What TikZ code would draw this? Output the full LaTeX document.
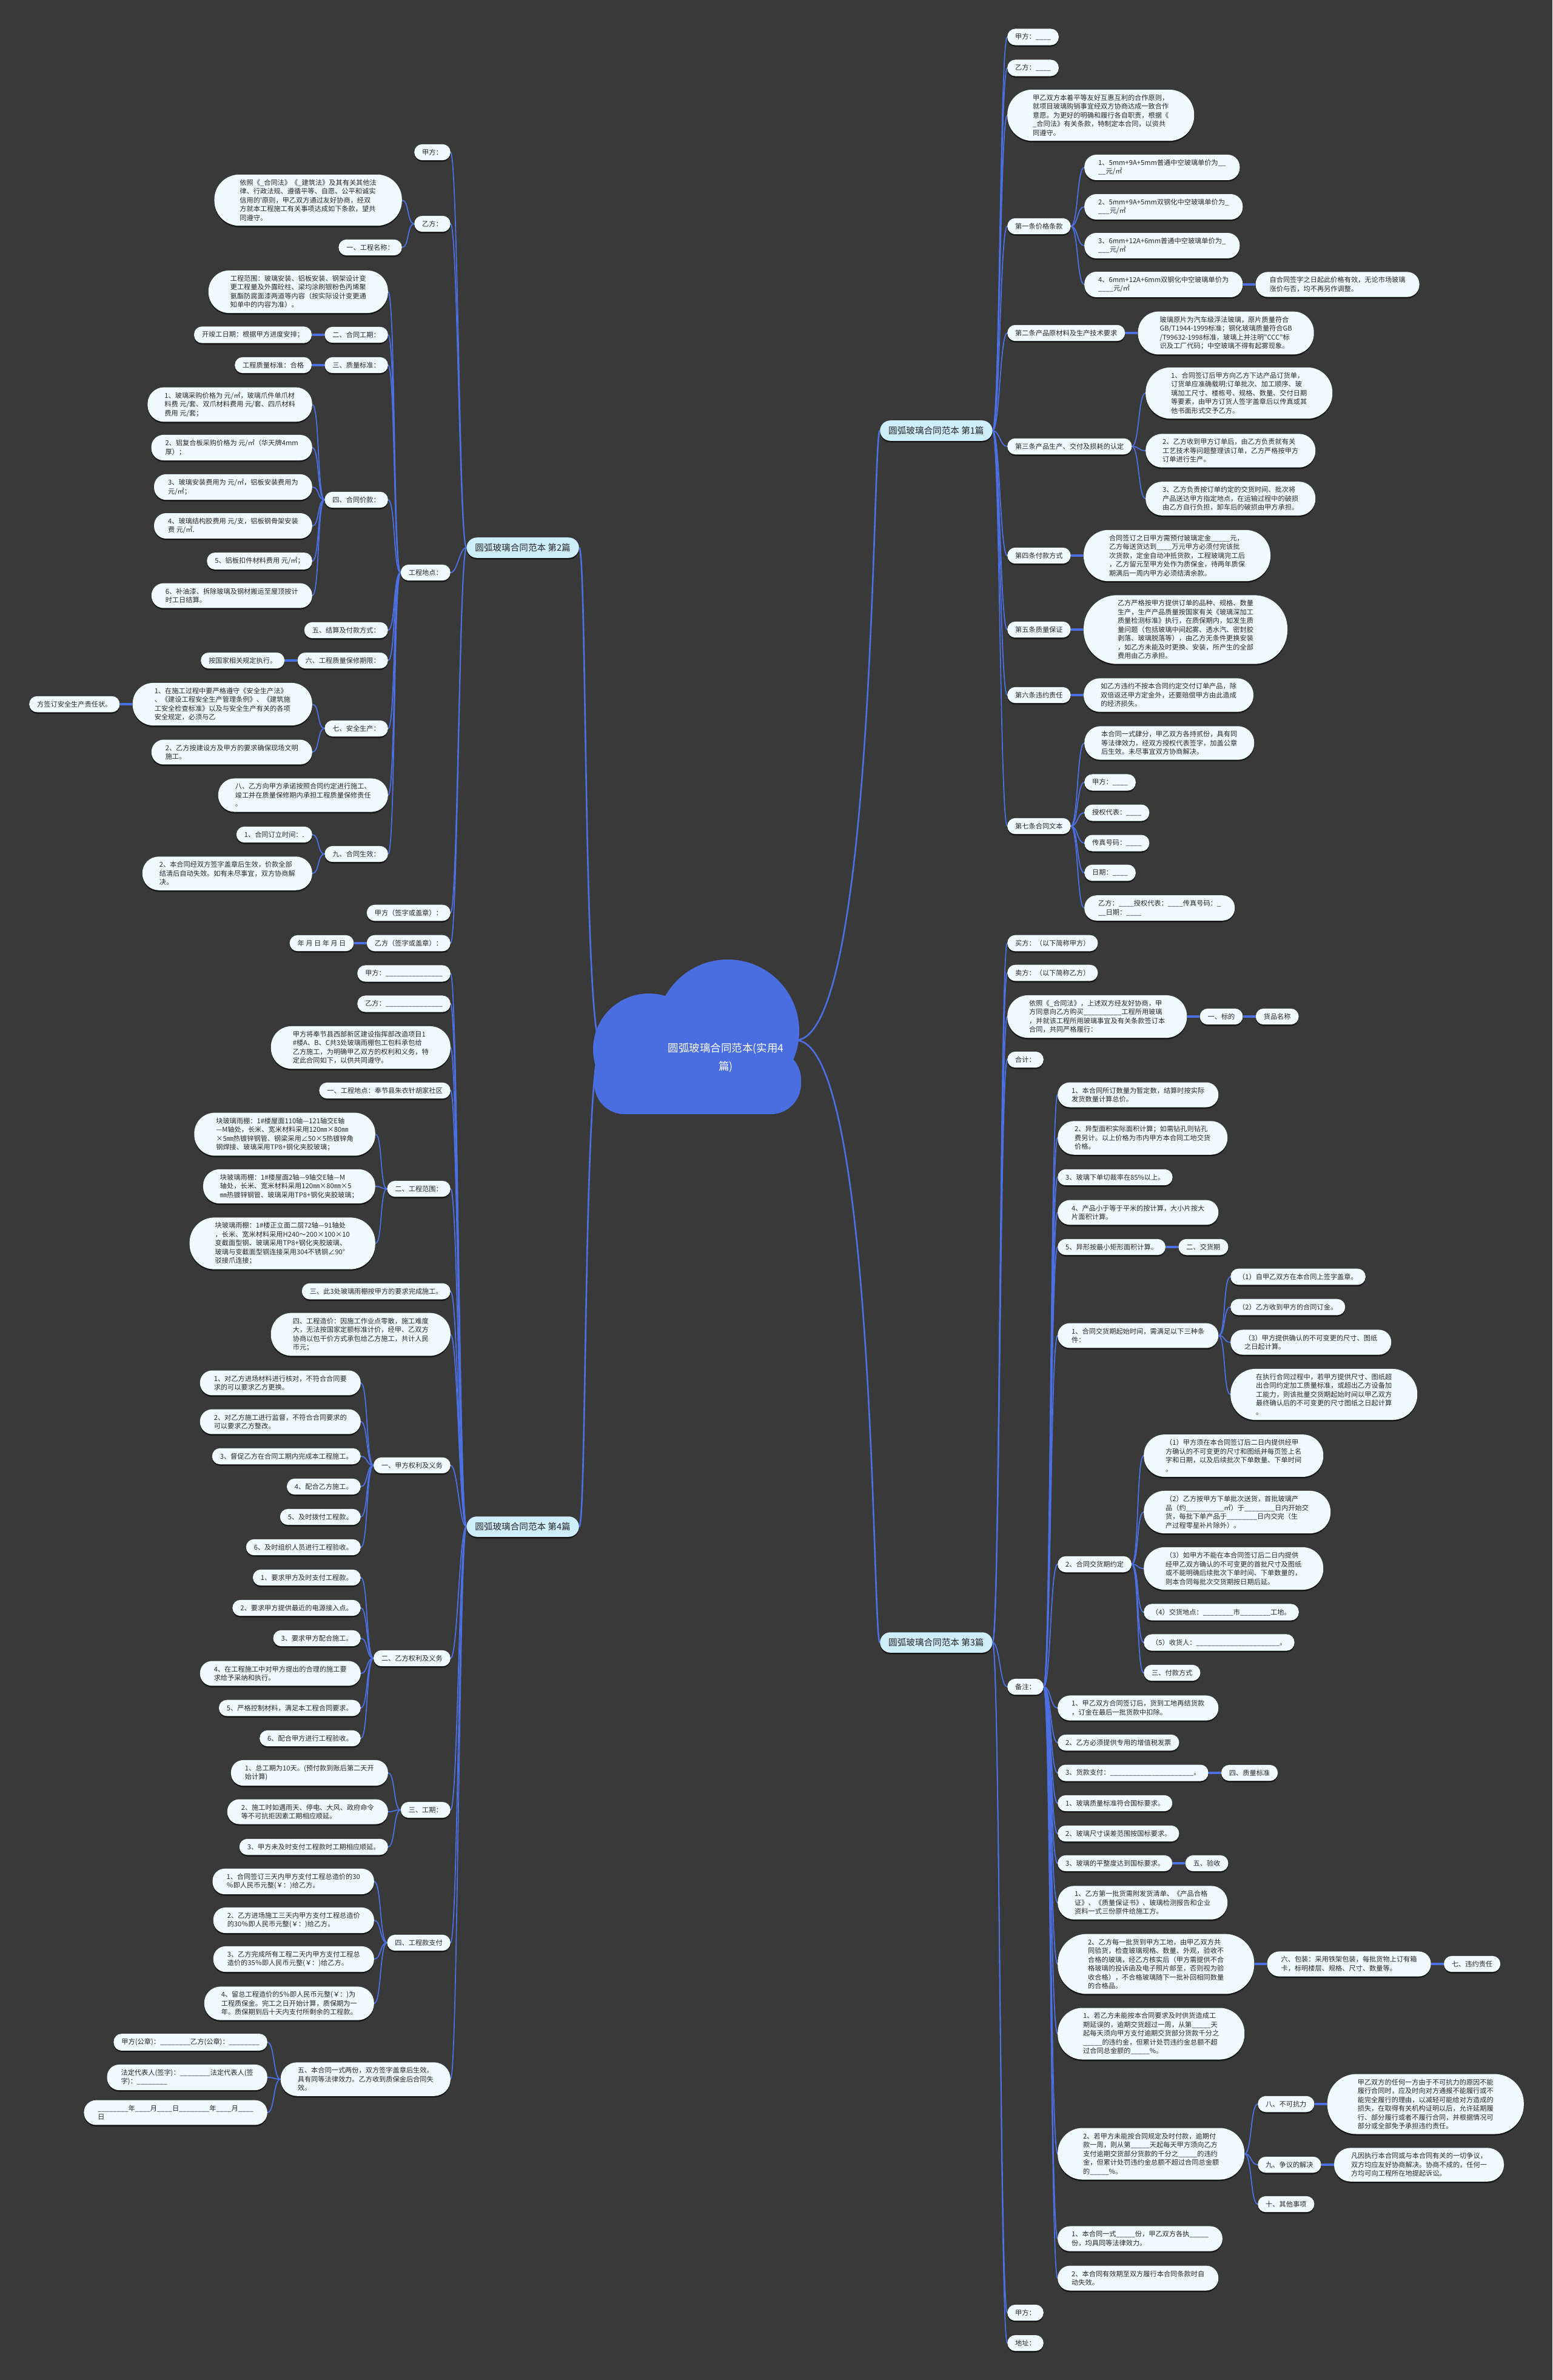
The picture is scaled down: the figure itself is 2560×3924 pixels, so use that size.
\documentclass[tikz,border=0pt]{standalone}
\usepackage{fontspec}
\newfontfamily\cjk{Noto Sans CJK SC}
\usetikzlibrary{shadows}
\pgfdeclarelayer{bgl}
\pgfdeclarelayer{edgel}
\pgfsetlayers{bgl,edgel,main}
\definecolor{bgc}{RGB}{58,57,57}
\definecolor{linec}{RGB}{76,112,226}
\definecolor{nodef}{RGB}{240,251,254}
\definecolor{mainf}{RGB}{206,238,251}
\definecolor{txtc}{RGB}{40,40,40}
\definecolor{rootc}{RGB}{74,110,224}
\AtBeginDocument{\catcode`\_=12 }
\tikzset{
  nb/.style={font=\cjk\fontsize{11.2}{14.5}\selectfont, fill=nodef, text=txtc, align=left, inner ysep=8pt,
    drop shadow={shadow xshift=0pt, shadow yshift=-2.5pt, fill=black, opacity=0.6}},
  n1/.style={nb, inner xsep=13pt, rounded corners=13pt},
  n2/.style={nb, inner xsep=23pt, rounded corners=20pt},
  n3/.style={nb, inner xsep=28pt, rounded corners=27pt},
  n4/.style={nb, inner xsep=36pt, rounded corners=34pt},
  n5/.style={nb, inner xsep=42pt, rounded corners=41pt},
  n6/.style={nb, inner xsep=50pt, rounded corners=48pt},
  n7/.style={nb, inner xsep=56pt, rounded corners=55pt},
  mainn/.style={font=\cjk\fontsize{14.6}{17}\selectfont, fill=mainf, text=txtc, inner xsep=14pt, inner ysep=10pt,
    rounded corners=17pt, drop shadow={shadow xshift=0pt, shadow yshift=-2.5pt, fill=black, opacity=0.6}},
  conn/.style={draw=linec, line width=1.8pt},
  trunk/.style={draw=linec, line width=2.6pt},
  tlink/.style={draw=linec, line width=4pt}
}
\newcommand\NL[5]{\node[#1, anchor=east] (#2) at (#3,#4) {#5};}
\newcommand\NR[5]{\node[#1, anchor=west] (#2) at (#3,#4) {#5};}
\newcommand\TL[4]{\node[#1, anchor=east] (#3) at ([xshift=-21pt]#2.west) {#4};
  \begin{pgfonlayer}{edgel}\draw[tlink] (#2.west) -- (#3.east);\end{pgfonlayer}}
\newcommand\TR[4]{\node[#1, anchor=west] (#3) at ([xshift=21pt]#2.east) {#4};
  \begin{pgfonlayer}{edgel}\draw[tlink] (#2.east) -- (#3.west);\end{pgfonlayer}}
\newcommand\CL[2]{\foreach \nn in {#2}{\draw[conn] (#1.west) .. controls +(-12,0) and +(12,0) .. (\nn.east);}}
\newcommand\CR[2]{\foreach \nn in {#2}{\draw[conn] (#1.east) .. controls +(12,0) and +(-12,0) .. (\nn.west);}}
\begin{document}
\begin{tikzpicture}[x=1pt,y=-1pt]
\begin{pgfonlayer}{bgl}
\fill[bgc] (0,0) rectangle (2560,3924);
\end{pgfonlayer}
\useasboundingbox (0,0) rectangle (2560,3924);

% ---------- central cloud ----------
\fill[rootc] (1070,1730) circle[radius=92pt];
\fill[rootc] (1200,1700) circle[radius=118pt];
\fill[rootc, rounded corners=50pt] (980,1730) rectangle (1321,1837);
\node[font=\cjk\fontsize{17.5}{30}\selectfont, text=white, align=center] (root) at (1197,1744) {圆弧玻璃合同范本(实用4\\篇)};
\coordinate (rootL) at (992,1725);
\coordinate (rootR) at (1312,1715);

% ---------- main nodes ----------
\node[mainn, anchor=east] (L2) at (955,903) {圆弧玻璃合同范本 第2篇};
\node[mainn, anchor=east] (L4) at (955,2517) {圆弧玻璃合同范本 第4篇};
\node[mainn, anchor=west] (R1) at (1451,710) {圆弧玻璃合同范本 第1篇};
\node[mainn, anchor=west] (R3) at (1451,2708) {圆弧玻璃合同范本 第3篇};

% ---------- 第2篇 ----------
\NL{n1}{a1}{743}{251}{甲方：}
\NL{n1}{a2}{743}{369}{乙方：}
\NL{n5}{a2a}{663}{330}{依照《_合同法》《_建筑法》及其有关其他法\\律、行政法规、遵循平等、自愿、公平和诚实\\信用的'原则，甲乙双方通过友好协商，经双\\方就本工程施工有关事项达成如下条款，望共\\同遵守。}
\NL{n1}{a2b}{663}{408}{一、工程名称：}
\NL{n1}{a3}{743}{944}{工程地点：}
\NL{n4}{a3a}{640}{481}{工程范围：玻璃安装、铝板安装、钢架设计变\\更工程量及外露砼柱、梁均涂刷银粉色丙烯聚\\氨酯防腐面漆两道等内容（按实际设计变更通\\知单中的内容为准）。}
\NL{n1}{a3b}{640}{552}{二、合同工期：}
\TL{n1}{a3b}{a3b1}{开竣工日期：根据甲方进度安排；}
\NL{n1}{a3c}{640}{602}{三、质量标准：}
\TL{n1}{a3c}{a3c1}{工程质量标准：合格}
\NL{n1}{a3d}{640}{824}{四、合同价款：}
\NL{n3}{a3d1}{515}{667}{1、玻璃采购价格为 元/㎡，玻璃爪件单爪材\\料费 元/套、双爪材料费用 元/套、四爪材料\\费用 元/套；}
\NL{n2}{a3d2}{515}{738}{2、铝复合板采购价格为 元/㎡（华天牌4mm\\厚）；}
\NL{n2}{a3d3}{515}{803}{3、玻璃安装费用为 元/㎡，铝板安装费用为\\元/㎡；}
\NL{n2}{a3d4}{515}{867}{4、玻璃结构胶费用 元/支，铝板钢骨架安装\\费 元/㎡.}
\NL{n1}{a3d5}{515}{925}{5、铝板扣件材料费用 元/㎡；}
\NL{n2}{a3d6}{515}{982}{6、补油漆、拆除玻璃及钢材搬运至屋顶按计\\时工日结算。}
\NL{n1}{a3e}{640}{1039}{五、结算及付款方式：}
\NL{n1}{a3f}{640}{1089}{六、工程质量保修期限：}
\TL{n1}{a3f}{a3f1}{按国家相关规定执行。}
\NL{n1}{a3g}{640}{1201}{七、安全生产：}
\NL{n4}{a3g1}{515}{1161}{1、在施工过程中要严格遵守《安全生产法》\\、《建设工程安全生产管理条例》、《建筑施\\工安全检查标准》以及与安全生产有关的各项\\安全规定，必须与乙}
\TL{n1}{a3g1}{a3g1x}{方签订安全生产责任状。}
\NL{n2}{a3g2}{515}{1240}{2、乙方按建设方及甲方的要求确保现场文明\\施工。}
\NL{n3}{a3h}{640}{1311}{八、乙方向甲方承诺按照合同约定进行施工、\\竣工并在质量保修期内承担工程质量保修责任\\。}
\NL{n1}{a3i}{640}{1408}{九、合同生效：}
\NL{n1}{a3i1}{515}{1376}{1、合同订立时间：.}
\NL{n3}{a3i2}{515}{1440}{2、本合同经双方签字盖章后生效，价款全部\\结清后自动失效。如有未尽事宜，双方协商解\\决。}
\NL{n1}{a4}{743}{1505}{甲方（签字或盖章）：}
\NL{n1}{a5}{743}{1555}{乙方（签字或盖章）：}
\TL{n1}{a5}{a5x}{年 月 日 年 月 日}

% ---------- 第4篇 ----------
\NL{n1}{e1}{743}{1605}{甲方：_______________}
\NL{n1}{e2}{743}{1655}{乙方：_______________}
\NL{n4}{e3}{743}{1727}{甲方将奉节县西部新区建设指挥部改造项目1\\\#楼A、B、C共3处玻璃雨棚包工包料承包给\\乙方施工，为明确甲乙双方的权利和义务，特\\定此合同如下，以供共同遵守。}
\NL{n1}{e4}{743}{1798}{一、工程地点：奉节县朱衣针胡家社区}
\NL{n1}{e5}{743}{1960}{二、工程范围：}
\NL{n4}{e5a}{619}{1870}{块玻璃雨棚：1\#楼屋面110轴—121轴交E轴\\—M轴处，长米、宽米材料采用120㎜×80㎜\\×5㎜热镀锌钢管、钢梁采用∠50×5热镀锌角\\钢焊接、玻璃采用TP8+钢化夹胶玻璃；}
\NL{n3}{e5b}{619}{1956}{块玻璃雨棚：1\#楼屋面2轴—9轴交E轴—M\\轴处，长米、宽米材料采用120㎜×80㎜×5\\㎜热镀锌钢管、玻璃采用TP8+钢化夹胶玻璃；}
\NL{n5}{e5c}{619}{2050}{块玻璃雨棚：1\#楼正立面二层72轴—91轴处\\，长米、宽米材料采用H240～200×100×10\\变截面型钢、玻璃采用TP8+钢化夹胶玻璃、\\玻璃与变截面型钢连接采用304不锈钢∠90°\\驳接爪连接；}
\NL{n1}{e6}{743}{2129}{三、此3处玻璃雨棚按甲方的要求完成施工。}
\NL{n4}{e7}{743}{2200}{四、工程造价：因施工作业点零散，施工难度\\大，无法按国家定额标准计价，经甲、乙双方\\协商以包干价方式承包给乙方施工，共计人民\\币元；}
\NL{n1}{e8}{743}{2416}{一、甲方权利及义务}
\NL{n2}{e8a}{595}{2280}{1、对乙方进场材料进行核对，不符合合同要\\求的可以要求乙方更换。}
\NL{n2}{e8b}{595}{2344}{2、对乙方施工进行监督，不符合合同要求的\\可以要求乙方整改。}
\NL{n1}{e8c}{595}{2401}{3、督促乙方在合同工期内完成本工程施工。}
\NL{n1}{e8d}{595}{2451}{4、配合乙方施工。}
\NL{n1}{e8e}{595}{2501}{5、及时拨付工程款。}
\NL{n1}{e8f}{595}{2551}{6、及时组织人员进行工程验收。}
\NL{n1}{e9}{743}{2734}{二、乙方权利及义务}
\NL{n1}{e9a}{595}{2601}{1、要求甲方及时支付工程款。}
\NL{n1}{e9b}{595}{2651}{2、要求甲方提供最近的电源接入点。}
\NL{n1}{e9c}{595}{2701}{3、要求甲方配合施工。}
\NL{n2}{e9d}{595}{2759}{4、在工程施工中对甲方提出的合理的施工要\\求给予采纳和执行。}
\NL{n1}{e9e}{595}{2816}{5、严格控制材料，满足本工程合同要求。}
\NL{n1}{e9f}{595}{2866}{6、配合甲方进行工程验收。}
\NL{n1}{e10}{743}{2984}{三、工期：}
\NL{n2}{e10a}{640}{2923}{1、总工期为10天。(预付款到账后第二天开\\始计算)}
\NL{n2}{e10b}{640}{2987}{2、施工时如遇雨天、停电、大风、政府命令\\等不可抗拒因素工期相应顺延。}
\NL{n1}{e10c}{640}{3045}{3、甲方未及时支付工程款时工期相应顺延。}
\NL{n1}{e11}{743}{3203}{四、工程款支付}
\NL{n2}{e11a}{617}{3102}{1、合同签订三天内甲方支付工程总造价的30\\％即人民币元整(￥：)给乙方。}
\NL{n2}{e11b}{617}{3166}{2、乙方进场施工三天内甲方支付工程总造价\\的30％即人民币元整(￥：)给乙方。}
\NL{n2}{e11c}{617}{3230}{3、乙方完成所有工程二天内甲方支付工程总\\造价的35％即人民币元整(￥：)给乙方。}
\NL{n3}{e11d}{617}{3303}{4、留总工程造价的5％即人民币元整(￥：)为\\工程质保金。完工之日开始计算，质保期为一\\年。质保期到后十天内支付所剩余的工程款。}
\NL{n3}{e12}{743}{3428}{五、本合同一式两份，双方签字盖章后生效。\\具有同等法律效力。乙方收到质保金后合同失\\效。}
\NL{n1}{e12a}{441}{3367}{甲方(公章)：________乙方(公章)：________}
\NL{n2}{e12b}{441}{3425}{法定代表人(签字)：________法定代表人(签\\字)：________}
\NL{n2}{e12c}{441}{3483}{________年____月____日________年____月____\\日}

% ---------- 第1篇 ----------
\NR{n1}{b1}{1661}{61}{甲方：____}
\NR{n1}{b2}{1661}{112}{乙方：____}
\NR{n5}{b3}{1661}{190}{甲乙双方本着平等友好互惠互利的合作原则，\\就项目玻璃购销事宜经双方协商达成一致合作\\意愿。为更好的明确和履行各自职责，根据《\\_合同法》有关条款，特制定本合同，以资共\\同遵守。}
\NR{n1}{b4}{1661}{373}{第一条价格条款}
\NR{n2}{b4a}{1788}{276}{1、5mm+9A+5mm普通中空玻璃单价为__\\__元/㎡}
\NR{n2}{b4b}{1788}{341}{2、5mm+9A+5mm双钢化中空玻璃单价为_\\___元/㎡}
\NR{n2}{b4c}{1788}{405}{3、6mm+12A+6mm普通中空玻璃单价为_\\___元/㎡}
\NR{n2}{b4d}{1788}{469}{4、6mm+12A+6mm双钢化中空玻璃单价为\\____元/㎡}
\TR{n2}{b4d}{b4dx}{自合同签字之日起此价格有效，无论市场玻璃\\涨价与否，均不再另作调整。}
\NR{n1}{b5}{1661}{549}{第二条产品原材料及生产技术要求}
\TR{n4}{b5}{b5x}{玻璃原片为汽车级浮法玻璃，原片质量符合\\GB/T1944-1999标准；钢化玻璃质量符合GB\\/T99632-1998标准，玻璃上并注明"CCC"标\\识及工厂代码；中空玻璃不得有起雾现象。}
\NR{n1}{b6}{1661}{736}{第三条产品生产、交付及损耗的认定}
\NR{n5}{b6a}{1889}{648}{1、合同签订后甲方向乙方下达产品订货单，\\订货单应准确载明:订单批次、加工顺序、玻\\璃加工尺寸、楼栋号、规格、数量、交付日期\\等要素，由甲方订货人签字盖章后以传真或其\\他书面形式交予乙方。}
\NR{n3}{b6b}{1889}{743}{2、乙方收到甲方订单后，由乙方负责就有关\\工艺技术等问题整理该订单，乙方严格按甲方\\订单进行生产。}
\NR{n3}{b6c}{1889}{822}{3、乙方负责按订单约定的交货时间、批次将\\产品送达甲方指定地点，在运输过程中的破损\\由乙方自行负担，卸车后的破损由甲方承担。}
\NR{n1}{b7}{1661}{916}{第四条付款方式}
\TR{n5}{b7}{b7x}{合同签订之日甲方需预付玻璃定金_____元，\\乙方每送货达到____万元甲方必须付完该批\\次货款，定金自动冲抵货款，工程玻璃完工后\\，乙方留元至甲方处作为质保金，待两年质保\\期满后一周内甲方必须结清余款。}
\NR{n1}{b8}{1661}{1038}{第五条质量保证}
\TR{n7}{b8}{b8x}{乙方严格按甲方提供订单的品种、规格、数量\\生产，生产产品质量按国家有关《玻璃深加工\\质量检测标准》执行，在质保期内，如发生质\\量问题（包括玻璃中间起雾、透水汽、密封胶\\剥落、玻璃脱落等），由乙方无条件更换安装\\，如乙方未能及时更换、安装，所产生的全部\\费用由乙方承担。}
\NR{n1}{b9}{1661}{1146}{第六条违约责任}
\TR{n3}{b9}{b9x}{如乙方违约不按本合同约定交付订单产品，除\\双倍返还甲方定金外，还要赔偿甲方由此造成\\的经济损失。}
\NR{n1}{b10}{1661}{1362}{第七条合同文本}
\NR{n3}{b10a}{1788}{1225}{本合同一式肆分，甲乙双方各持贰份，具有同\\等法律效力，经双方授权代表签字，加盖公章\\后生效。未尽事宜双方协商解决。}
\NR{n1}{b10b}{1788}{1290}{甲方：____}
\NR{n1}{b10c}{1788}{1340}{授权代表：____}
\NR{n1}{b10d}{1788}{1390}{传真号码：____}
\NR{n1}{b10e}{1788}{1439}{日期：____}
\NR{n2}{b10f}{1788}{1497}{乙方：____授权代表：____传真号码：_\\__日期：____}

% ---------- 第3篇 ----------
\NR{n1}{c1}{1661}{1555}{买方：（以下简称甲方）}
\NR{n1}{c2}{1661}{1604}{卖方：（以下简称乙方）}
\NR{n4}{c3}{1661}{1676}{依照《_合同法》，上述双方经友好协商，甲\\方同意向乙方购买__________工程所用玻璃\\，并就该工程所用玻璃事宜及有关条款签订本\\合同，共同严格履行：}
\TR{n1}{c3}{c3x}{一、标的}
\TR{n1}{c3x}{c3xx}{货品名称}
\NR{n1}{c4}{1661}{1747}{合计：}
\NR{n1}{c5}{1661}{2781}{备注：}
\NR{n2}{d1}{1744}{1805}{1、本合同所订数量为暂定数，结算时按实际\\发货数量计算总价。}
\NR{n3}{d2}{1744}{1876}{2、异型面积实际面积计算；如需钻孔则钻孔\\费另计。以上价格为市内甲方本合同工地交货\\价格。}
\NR{n1}{d3}{1744}{1941}{3、玻璃下单切裁率在85\%以上。}
\NR{n2}{d4}{1744}{1999}{4、产品小于等于平米的按计算，大小片按大\\片面积计算。}
\NR{n1}{d5}{1744}{2056}{5、异形按最小矩形面积计算。}
\TR{n1}{d5}{d5x}{二、交货期}
\NR{n2}{d6}{1744}{2202}{1、合同交货期起始时间，需满足以下三种条\\件：}
\NR{n1}{d6a}{2029}{2105}{（1）自甲乙双方在本合同上签字盖章。}
\NR{n1}{d6b}{2029}{2155}{（2）乙方收到甲方的合同订金。}
\NR{n2}{d6c}{2029}{2213}{（3）甲方提供确认的不可变更的尺寸、图纸\\之日起计算。}
\NR{n5}{d6d}{2029}{2299}{在执行合同过程中，若甲方提供尺寸、图纸超\\出合同约定加工质量标准，或超出乙方设备加\\工能力，则该批量交货期起始时间以甲乙双方\\最终确认后的不可变更的尺寸图纸之日起计算\\。}
\NR{n1}{d7}{1744}{2579}{2、合同交货期约定}
\NR{n4}{d7a}{1886}{2400}{（1）甲方须在本合同签订后二日内提供经甲\\方确认的不可变更的尺寸和图纸并每页签上名\\字和日期，以及后续批次下单数量、下单时间\\。}
\NR{n4}{d7b}{1886}{2493}{（2）乙方按甲方下单批次送货，首批玻璃产\\品（约__________㎡）于________日内开始交\\货，每批下单产品于________日内交完（生\\产过程零星补片除外）。}
\NR{n4}{d7c}{1886}{2586}{（3）如甲方不能在本合同签订后二日内提供\\经甲乙双方确认的不可变更的首批尺寸及图纸\\或不能明确后续批次下单时间、下单数量的，\\则本合同每批次交货期按日期后延。}
\NR{n1}{d7d}{1886}{2658}{（4）交货地点：________市________工地。}
\NR{n1}{d7e}{1886}{2708}{（5）收货人：______________________。}
\NR{n1}{d7f}{1886}{2758}{三、付款方式}
\NR{n2}{d8}{1744}{2816}{1、甲乙双方合同签订后，货到工地再结货款\\，订金在最后一批货款中扣除。}
\NR{n1}{d9}{1744}{2873}{2、乙方必须提供专用的增值税发票}
\NR{n1}{d10}{1744}{2923}{3、货款支付：______________________。}
\TR{n1}{d10}{d10x}{四、质量标准}
\NR{n1}{d11}{1744}{2973}{1、玻璃质量标准符合国标要求。}
\NR{n1}{d12}{1744}{3023}{2、玻璃尺寸误差范围按国标要求。}
\NR{n1}{d13}{1744}{3072}{3、玻璃的平整度达到国标要求。}
\TR{n1}{d13}{d13x}{五、验收}
\NR{n3}{d14}{1744}{3137}{1、乙方第一批货需附发货清单、《产品合格\\证》、《质量保证书》、玻璃检测报告和企业\\资料一式三份原件给施工方。}
\NR{n6}{d15}{1744}{3238}{2、乙方每一批货到甲方工地，由甲乙双方共\\同验货，检查玻璃规格、数量、外观，验收不\\合格的玻璃，经乙方核实后（甲方需提供不合\\格玻璃的投诉函及电子照片邮至，否则视为验\\收合格），不合格玻璃随下一批补回相同数量\\的合格品。}
\TR{n2}{d15}{d15x}{六、包装：采用铁架包装，每批货物上订有箱\\卡，标明楼层、规格、尺寸、数量等。}
\TR{n1}{d15x}{d15xx}{七、违约责任}
\NR{n5}{d16}{1744}{3353}{1、若乙方未能按本合同要求及时供货造成工\\期延误的，逾期交货超过一周，从第_____天\\起每天须向甲方支付逾期交货部分货款千分之\\_____的违约金，但累计处罚违约金总额不超\\过合同总金额的_____\%。}
\NR{n5}{d17}{1744}{3551}{2、若甲方未能按合同规定及时付款，逾期付\\款一周，则从第_____天起每天甲方须向乙方\\支付逾期交货部分货款的千分之_____的违约\\金，但累计处罚违约金总额不超过合同总金额\\的_____\%。}
\NR{n1}{d17a}{2074}{3469}{八、不可抗力}
\TR{n6}{d17a}{d17ax}{甲乙双方的任何一方由于不可抗力的原因不能\\履行合同时，应及时向对方通报不能履行或不\\能完全履行的理由，以减轻可能给对方造成的\\损失，在取得有关机构证明以后，允许延期履\\行、部分履行或者不履行合同，并根据情况可\\部分或全部免予承担违约责任。}
\NR{n1}{d17b}{2074}{3569}{九、争议的解决}
\TR{n3}{d17b}{d17bx}{凡因执行本合同或与本合同有关的一切争议，\\双方均应友好协商解决。协商不成的，任何一\\方均可向工程所在地提起诉讼。}
\NR{n1}{d17c}{2074}{3634}{十、其他事项}
\NR{n2}{d18}{1744}{3691}{1、本合同一式_____份，甲乙双方各执_____\\份，均具同等法律效力。}
\NR{n2}{d19}{1744}{3756}{2、本合同有效期至双方履行本合同条款时自\\动失效。}
\NR{n1}{c6}{1661}{3813}{甲方：}
\NR{n1}{c7}{1661}{3863}{地址：}

% ---------- connectors ----------
\begin{pgfonlayer}{edgel}
\draw[trunk] (rootL) .. controls (962,1725) and (968,903) .. (L2.east);
\draw[trunk] (rootL) .. controls (962,1725) and (968,2517) .. (L4.east);
\draw[trunk] (rootR) .. controls (1445,1715) and (1438,710) .. (R1.west);
\draw[trunk] (rootR) .. controls (1445,1715) and (1438,2708) .. (R3.west);
\CL{L2}{a1,a2,a3,a4,a5}
\CL{a2}{a2a,a2b}
\CL{a3}{a3a,a3b,a3c,a3d,a3e,a3f,a3g,a3h,a3i}
\CL{a3d}{a3d1,a3d2,a3d3,a3d4,a3d5,a3d6}
\CL{a3g}{a3g1,a3g2}
\CL{a3i}{a3i1,a3i2}
\CL{L4}{e1,e2,e3,e4,e5,e6,e7,e8,e9,e10,e11,e12}
\CL{e5}{e5a,e5b,e5c}
\CL{e8}{e8a,e8b,e8c,e8d,e8e,e8f}
\CL{e9}{e9a,e9b,e9c,e9d,e9e,e9f}
\CL{e10}{e10a,e10b,e10c}
\CL{e11}{e11a,e11b,e11c,e11d}
\CL{e12}{e12a,e12b,e12c}
\CR{R1}{b1,b2,b3,b4,b5,b6,b7,b8,b9,b10}
\CR{b4}{b4a,b4b,b4c,b4d}
\CR{b6}{b6a,b6b,b6c}
\CR{b10}{b10a,b10b,b10c,b10d,b10e,b10f}
\CR{R3}{c1,c2,c3,c4,c5,c6,c7}
\CR{c5}{d1,d2,d3,d4,d5,d6,d7,d8,d9,d10,d11,d12,d13,d14,d15,d16,d17,d18,d19}
\CR{d6}{d6a,d6b,d6c,d6d}
\CR{d7}{d7a,d7b,d7c,d7d,d7e,d7f}
\CR{d17}{d17a,d17b,d17c}
\end{pgfonlayer}
\end{tikzpicture}
\end{document}
